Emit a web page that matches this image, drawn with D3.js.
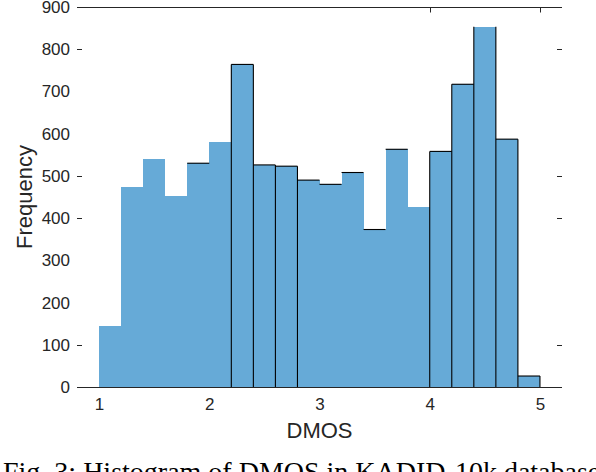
<!DOCTYPE html>
<html>
<head>
<meta charset="utf-8">
<script src="https://cdn.jsdelivr.net/npm/d3@7"></script>
<style>
    html, body { margin: 0; padding: 0; background: #fff; overflow: hidden; }
    svg { display: block; }
</style>
</head>
<body>
<div id="chart"></div>
<script>
/* jshint esversion: 6 */

// bin lower edges (DMOS), bin width 0.2
var binLo  = [1.0, 1.2, 1.4, 1.6, 1.8, 2.0, 2.2, 2.4, 2.6, 2.8,
              3.0, 3.2, 3.4, 3.6, 3.8, 4.0, 4.2, 4.4, 4.6, 4.8];
var binHi  = [1.2, 1.4, 1.6, 1.8, 2.0, 2.2, 2.4, 2.6, 2.8, 3.0,
              3.2, 3.4, 3.6, 3.8, 4.0, 4.2, 4.4, 4.6, 4.8, 5.0];
var counts = [145, 474, 540, 452, 530, 580, 764, 526, 523, 490,
              480, 508, 373, 563, 426, 558, 717, 853, 587, 26];

// bins whose top edge is outlined, and bin edges drawn as black sides
var topEdgeBins = [1.8, 2.2, 2.4, 2.6, 2.8, 3.0, 3.2, 3.4, 3.6, 4.0, 4.2, 4.6, 4.8];
var sideEdges   = [2.2, 2.4, 2.6, 2.8, 4.0, 4.2, 4.4, 4.6, 4.8, 5.0];

var xTickVals  = [1, 2, 3, 4, 5];
var xTickMarks = [4, 5];
var yTickVals  = [0, 100, 200, 300, 400, 500, 600, 700, 800, 900];
var yTickMarks = [100, 400, 500, 800];

(function()
{
    "use strict";

    var width = 596, height = 472;
    var left = 77, right = 562, top = 7, bottom = 387;
    var axisColor = "#262626";
    var barColor  = "#66aad7";
    var tickLen = 5;

    var svg = d3.select("#chart")
                .append("svg")
                .attr("width", width)
                .attr("height", height);

    // #########################################################################
    var xScale = d3.scaleLinear()
                   .domain([0.8, 5.2])
                   .range([left, right]);

    var yScale = d3.scaleLinear()
                   .domain([0, 900])
                   .range([bottom, top]);
    // #########################################################################

    var bins = binLo.map((lo, i) => ({lo: lo, hi: binHi[i], n: counts[i]}));

    // bars, fill only (crisp so neighbours leave no seam)
    svg.append("g")
       .attr("shape-rendering", "crispEdges")
       .selectAll("rect")
       .data(bins)
       .enter()
       .append("rect")
       .attr("x", (d) => xScale(d.lo))
       .attr("y", (d) => yScale(d.n))
       .attr("width", (d) => xScale(d.hi) - xScale(d.lo))
       .attr("height", (d) => yScale(0) - yScale(d.n))
       .attr("fill", barColor);

    // outlined tops
    var edges = svg.append("g")
                   .attr("stroke", "#000")
                   .attr("stroke-width", 1.1);

    edges.selectAll("line.top")
         .data(bins.filter((d) => topEdgeBins.indexOf(d.lo) >= 0))
         .enter()
         .append("line")
         .attr("class", "top")
         .attr("x1", (d) => xScale(d.lo))
         .attr("x2", (d) => xScale(d.hi))
         .attr("y1", (d) => yScale(d.n))
         .attr("y2", (d) => yScale(d.n));

    // outlined sides, as tall as the higher neighbouring bin
    var sideHeight = function(v) {
        var h = 0;
        bins.forEach(function(d) {
            if (Math.abs(d.lo - v) < 1e-6 || Math.abs(d.hi - v) < 1e-6)
                h = Math.max(h, d.n);
        });
        return h;
    };

    edges.selectAll("line.side")
         .data(sideEdges)
         .enter()
         .append("line")
         .attr("class", "side")
         .attr("x1", (d) => xScale(d))
         .attr("x2", (d) => xScale(d))
         .attr("y1", (d) => yScale(sideHeight(d)))
         .attr("y2", yScale(0));

    // #########################################################################
    // axes: labels come from d3 axes, marks drawn only where they show
    var font = "'Liberation Sans', Arial, Helvetica, sans-serif";

    var gx = svg.append("g")
                .attr("transform", `translate(0,${bottom})`)
                .call(d3.axisBottom(xScale)
                        .tickValues(xTickVals)
                        .tickSize(0)
                        .tickPadding(11)
                        .tickFormat(d3.format("d")));

    var gy = svg.append("g")
                .attr("transform", `translate(${left},0)`)
                .call(d3.axisLeft(yScale)
                        .tickValues(yTickVals)
                        .tickSize(0)
                        .tickPadding(7)
                        .tickFormat(d3.format("d")));

    [gx, gy].forEach(function(g) {
        g.select(".domain").remove();
        g.selectAll("text")
         .attr("fill", axisColor)
         .style("font-family", font)
         .style("font-size", "17px");
    });

    var frame = svg.append("g")
                   .attr("stroke", axisColor)
                   .attr("stroke-width", 1);

    [top, bottom].forEach(function(y) {
        frame.append("line")
             .attr("x1", left)
             .attr("x2", right)
             .attr("y1", y + 0.5)
             .attr("y2", y + 0.5);
    });

    yTickMarks.forEach(function(v) {
        var y = Math.round(yScale(v)) + 0.5;
        frame.append("line")
             .attr("x1", left).attr("x2", left + tickLen)
             .attr("y1", y).attr("y2", y);
        frame.append("line")
             .attr("x1", right - tickLen).attr("x2", right)
             .attr("y1", y).attr("y2", y);
    });

    xTickMarks.forEach(function(v) {
        var x = Math.round(xScale(v)) + 0.5;
        frame.append("line")
             .attr("x1", x).attr("x2", x)
             .attr("y1", top).attr("y2", top + tickLen + 0.5);
    });
    // #########################################################################

    // axis titles
    svg.append("text")
       .attr("x", (left + right) / 2)
       .attr("y", 438)
       .attr("text-anchor", "middle")
       .attr("fill", axisColor)
       .style("font-family", font)
       .style("font-size", "22px")
       .text("DMOS");

    svg.append("text")
       .attr("transform", `translate(32,${(top + bottom) / 2}) rotate(-90)`)
       .attr("text-anchor", "middle")
       .attr("fill", axisColor)
       .style("font-family", font)
       .style("font-size", "22px")
       .text("Frequency");

    // figure caption, cut by the bottom of the picture
    svg.append("text")
       .attr("x", 3)
       .attr("y", 481)
       .attr("fill", "#000")
       .style("font-family", "'Liberation Serif', 'Times New Roman', serif")
       .style("font-size", "28px")
       .text("Fig. 3: Histogram of DMOS in KADID-10k database.");
}
)();
</script>
</body>
</html>
